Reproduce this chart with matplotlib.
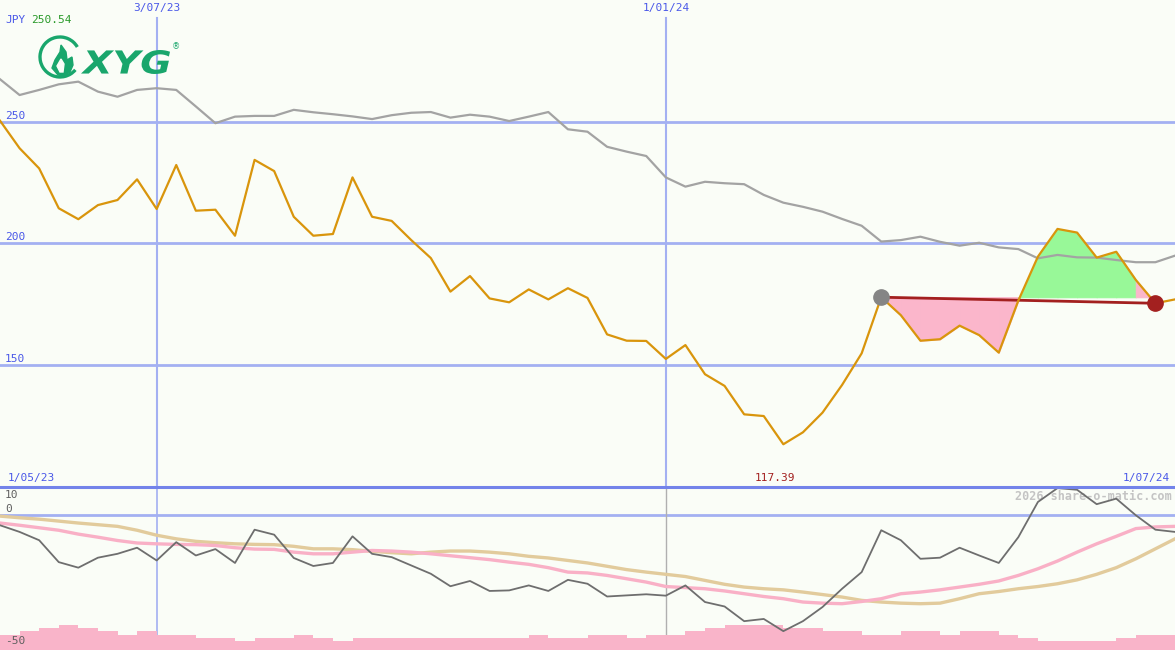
import numpy as np
import matplotlib
matplotlib.use("Agg")
import matplotlib.pyplot as plt
from matplotlib.patches import Arc, Polygon, PathPatch
from matplotlib.textpath import TextPath
from matplotlib.font_manager import FontProperties
from matplotlib.transforms import Affine2D

# ---------------- data ----------------
# weekly points, index 0 = 8 May 2023 ... index 60 = 1 Jul 2024
price = [250.54, 239.2, 230.9, 214.5, 210.0, 215.8, 217.9, 226.4, 214.2, 232.3,
         213.5, 213.9, 203.2, 234.4, 229.8, 211.0, 203.2, 203.9, 227.2, 211.0,
         209.3, 201.4, 194.0, 180.2, 186.6, 177.4, 175.8, 181.1, 177.0, 181.6,
         177.6, 162.6, 160.0, 159.9, 152.5, 158.2, 146.2, 141.4, 129.7, 129.0,
         117.39, 122.3, 130.4, 141.8, 154.8, 177.9, 170.5, 160.0, 160.6, 166.2,
         162.3, 155.1, 176.5, 194.6, 206.0, 204.5, 194.2, 196.6, 185.0, 175.4,
         177.0]

compare = [267.6, 261.1, 263.2, 265.5, 266.6, 262.5, 260.4, 263.2, 263.9, 263.2,
           256.4, 249.5, 252.2, 252.5, 252.5, 255.0, 254.0, 253.2, 252.3, 251.2,
           252.8, 253.8, 254.1, 251.8, 253.0, 252.2, 250.4, 252.2, 254.1, 247.0,
           246.0, 239.8, 237.8, 236.0, 227.2, 223.4, 225.4, 224.8, 224.4, 220.0,
           216.8, 215.1, 213.1, 210.1, 207.3, 200.8, 201.4, 202.8, 200.7, 199.1,
           200.3, 198.4, 197.7, 193.9, 195.3, 194.3, 194.2, 193.2, 192.3, 192.3,
           195.0]

momentum = [-3.8, -6.2, -9.2, -17.1, -19.1, -15.5, -14.1, -11.9, -16.5, -9.9,
            -14.7, -12.4, -17.4, -5.4, -7.2, -15.6, -18.5, -17.4, -7.8, -14.1,
            -15.3, -18.3, -21.3, -25.8, -23.9, -27.5, -27.3, -25.5, -27.5, -23.5,
            -24.9, -29.5, -29.1, -28.7, -29.2, -25.5, -31.5, -33.1, -38.4, -37.6,
            -42.0, -38.4, -33.3, -26.7, -20.7, -5.6, -9.2, -15.9, -15.5, -11.9,
            -14.7, -17.4, -8.1, 4.6, 9.6, 9.0, 3.8, 5.8, -0.2, -5.4,
            -6.2]

avg_fast = [-3.0, -3.8, -4.7, -5.6, -7.0, -8.1, -9.3, -10.2, -10.5, -10.7,
            -10.8, -11.1, -11.9, -12.4, -12.5, -13.5, -14.1, -14.1, -13.5, -12.9,
            -13.1, -13.5, -14.1, -14.8, -15.5, -16.2, -17.1, -17.9, -19.1, -20.7,
            -21.0, -21.9, -23.1, -24.3, -25.9, -26.3, -26.7, -27.5, -28.5, -29.5,
            -30.3, -31.5, -31.9, -32.1, -31.3, -30.3, -28.5, -27.9, -27.1, -26.1,
            -25.1, -23.9, -21.9, -19.5, -16.7, -13.5, -10.5, -7.8, -5.0, -4.4,
            -4.2]

avg_slow = [-0.5, -1.1, -1.6, -2.3, -3.0, -3.6, -4.2, -5.6, -7.4, -8.7,
            -9.6, -10.1, -10.5, -10.7, -10.8, -11.4, -12.3, -12.3, -12.6, -13.2,
            -13.7, -14.1, -13.5, -13.1, -13.1, -13.5, -14.1, -15.0, -15.6, -16.5,
            -17.4, -18.6, -19.8, -20.7, -21.5, -22.3, -23.7, -25.1, -26.1, -26.7,
            -27.1, -27.9, -28.8, -29.7, -30.9, -31.5, -31.9, -32.1, -31.9, -30.3,
            -28.5, -27.7, -26.7, -25.9, -24.9, -23.5, -21.5, -19.1, -15.9, -12.3,
            -8.7]

volume_top = [-43.3, -42.0, -40.8, -39.7, -40.8, -42.0, -43.3, -42.0, -43.3, -43.3,
              -44.4, -44.4, -45.5, -44.4, -44.4, -43.3, -44.4, -45.5, -44.4, -44.4,
              -44.4, -44.4, -44.4, -44.4, -44.4, -44.4, -44.4, -43.3, -44.4, -44.4,
              -43.3, -43.3, -44.4, -43.3, -43.3, -42.0, -40.8, -39.7, -39.7, -39.7,
              -40.8, -40.8, -42.0, -42.0, -43.3, -43.3, -42.0, -42.0, -43.3, -42.0,
              -42.0, -43.3, -44.4, -45.5, -45.5, -45.5, -45.5, -44.4, -43.3, -43.3]

date_ticks = [8, 34]
date_labels = ["3/07/23", "1/01/24"]
price_grid = [250, 200, 150]
start_label = "1/05/23"
end_label = "1/07/24"
trend_start, trend_end = 45, 59

# ---------------- styling ----------------
BG = "#fafdf7"
GRID = "#a3b0f2"
SEP = "#7383ea"
LBL = "#4a58e8"
MONO = "DejaVu Sans Mono"

W, H = 1175, 650
fig = plt.figure(figsize=(W / 100, H / 100), dpi=100, facecolor=BG)

split = 487  # pixel row of panel separator
ax = fig.add_axes([0, 1 - split / H, 1, split / H], facecolor=BG)
axl = fig.add_axes([0, 0, 1, 1 - split / H], facecolor=BG)

n = len(price)
x = np.arange(n)

# ---------- main panel ----------
ax.set_xlim(0, n - 1)
ax.set_ylim(99.8, 300.2)
for s in ax.spines.values():
    s.set_visible(False)
ax.set_xticks([]); ax.set_yticks([])

for g in price_grid:
    ax.axhline(g, color=GRID, lw=2, zorder=1)
    ax.annotate(str(g), (0, g), xycoords=("axes fraction", "data"),
                xytext=(5, 1), textcoords="offset pixels", va="bottom", ha="left",
                fontsize=8, family=MONO, color=LBL)
for t, lab in zip(date_ticks, date_labels):
    ax.axvline(t, ymax=1 - 18 / split, color=GRID, lw=1.5, zorder=1)
    ax.annotate(lab, (t, 1), xycoords=("data", "axes fraction"),
                xytext=(0, -8), textcoords="offset pixels", va="center", ha="center",
                fontsize=8, family=MONO, color=LBL)

ax.plot(x, compare, color="#a3a3a3", lw=1.6, zorder=3)

base = price[trend_start]
for k in range(trend_start, trend_end):
    col = "#98f898" if price[k + 1] > base else "#fbb6cb"
    ax.fill_between(x[k:k + 2], price[k:k + 2], base, facecolor=col,
                    edgecolor=col, lw=0.8, zorder=2)

ax.plot([trend_start, trend_end], [price[trend_start], price[trend_end]],
        color="#a3201f", lw=2, zorder=4)
ax.plot(x, price, color="#d9950c", lw=1.6, zorder=5)
ax.plot([trend_start], [price[trend_start]], "o", ms=11, color="#858585", zorder=6)
ax.plot([trend_end], [price[trend_end]], "o", ms=11, color="#a3201f", zorder=6)

# bottom labels in main panel
imin = int(np.argmin(price))
ax.annotate(start_label, (0, 0), xycoords="axes fraction", xytext=(8, 9),
            textcoords="offset pixels", va="center", ha="left",
            fontsize=8, family=MONO, color=LBL)
ax.annotate(end_label, (1, 0), xycoords="axes fraction", xytext=(-5, 9),
            textcoords="offset pixels", va="center", ha="right",
            fontsize=8, family=MONO, color=LBL)
ax.annotate(f"{price[imin]:.2f}", (imin, 0), xycoords=("data", "axes fraction"),
            xytext=(-8, 9), textcoords="offset pixels", va="center", ha="center",
            fontsize=8, family=MONO, color="#a3201f")

# top-left currency label
ax.annotate("JPY", (0, 1), xycoords="axes fraction", xytext=(5, -20),
            textcoords="offset pixels", va="center", ha="left",
            fontsize=8, family=MONO, color=LBL)
ax.annotate(f"{price[0]:.2f}", (0, 1), xycoords="axes fraction", xytext=(31, -20),
            textcoords="offset pixels", va="center", ha="left",
            fontsize=8, family=MONO, color="#2a9a2a")

# ---------- lower panel ----------
axl.set_xlim(0, n - 1)
axl.set_ylim(-48.8, 10.0)
for s in axl.spines.values():
    s.set_visible(False)
axl.set_xticks([]); axl.set_yticks([])

axl.axhline(0, color=GRID, lw=2, zorder=1)
axl.axvline(date_ticks[0], color=GRID, lw=1.2, zorder=1)
axl.axvline(date_ticks[1], color="#b0b0b0", lw=1, zorder=1)

axl.fill_between(np.arange(len(volume_top) + 1), volume_top + [volume_top[-1]], -60,
                 step="post", color="#f9b4c9", lw=0, zorder=2)
axl.plot(x, avg_slow, color="#e2cb9c", lw=2.4, zorder=3)
axl.plot(x, avg_fast, color="#f9b0c6", lw=2.4, zorder=3)
axl.plot(x, momentum, color="#6e6e6e", lw=1.3, zorder=4)

axl.annotate("10", (0, 1), xycoords="axes fraction", xytext=(5, -8),
             textcoords="offset pixels", va="center", ha="left",
             fontsize=8, family=MONO, color="#606060")
axl.annotate("0", (0, 0), xycoords=("axes fraction", "data"), xytext=(5, 6),
             textcoords="offset pixels", va="center", ha="left",
             fontsize=8, family=MONO, color="#606060")
axl.annotate("-50", (0, 0), xycoords="axes fraction", xytext=(5, 9),
             textcoords="offset pixels", va="center", ha="left",
             fontsize=8, family=MONO, color="#606060")
axl.annotate("2026 share-o-matic.com", (1, 1), xycoords="axes fraction",
             xytext=(-3, -9), textcoords="offset pixels", va="center", ha="right",
             fontsize=8.5, family=MONO, fontweight="bold", color="#c4c4c4")

# separator
fig.add_artist(plt.Line2D([0, 1], [1 - split / H, 1 - split / H], color=SEP, lw=2.2,
                          transform=fig.transFigure))

# ---------- logo ----------
lg = fig.add_axes([0, 0, 1, 1], facecolor="none")
lg.set_xlim(0, W); lg.set_ylim(H, 0); lg.axis("off")
GREEN = "#19a66c"
lg.add_patch(Arc((60, 57), 40, 40, theta1=40, theta2=330, color=GREEN, lw=2.4))
flame = Polygon([(58, 75), (52, 68), (55, 60), (60, 52), (61, 45), (66, 52), (67, 60),
                 (72, 57), (73, 65), (70, 72), (64, 76)], closed=True, color=GREEN)
lg.add_patch(flame)
lg.add_patch(Polygon([(60, 72), (57, 66), (61, 59), (64, 64), (63, 72)], closed=True,
                     color=BG))
tp = TextPath((0, 0), "XYG", size=1,
              prop=FontProperties(family="DejaVu Sans", weight="heavy", style="italic"))
ext = tp.get_extents()
x0, x1, y0, y1 = 81, 170, 50, 74
tr = (Affine2D().translate(-ext.x0, -ext.y0)
      .scale((x1 - x0) / ext.width, -(y1 - y0) / ext.height)
      .translate(x0, y1))
lg.add_patch(PathPatch(tr.transform_path(tp), facecolor=GREEN, edgecolor="none"))
lg.text(176, 47, "®", fontsize=6, color=GREEN, va="center", ha="center")

fig.savefig("out.png", dpi=100, facecolor=BG)
